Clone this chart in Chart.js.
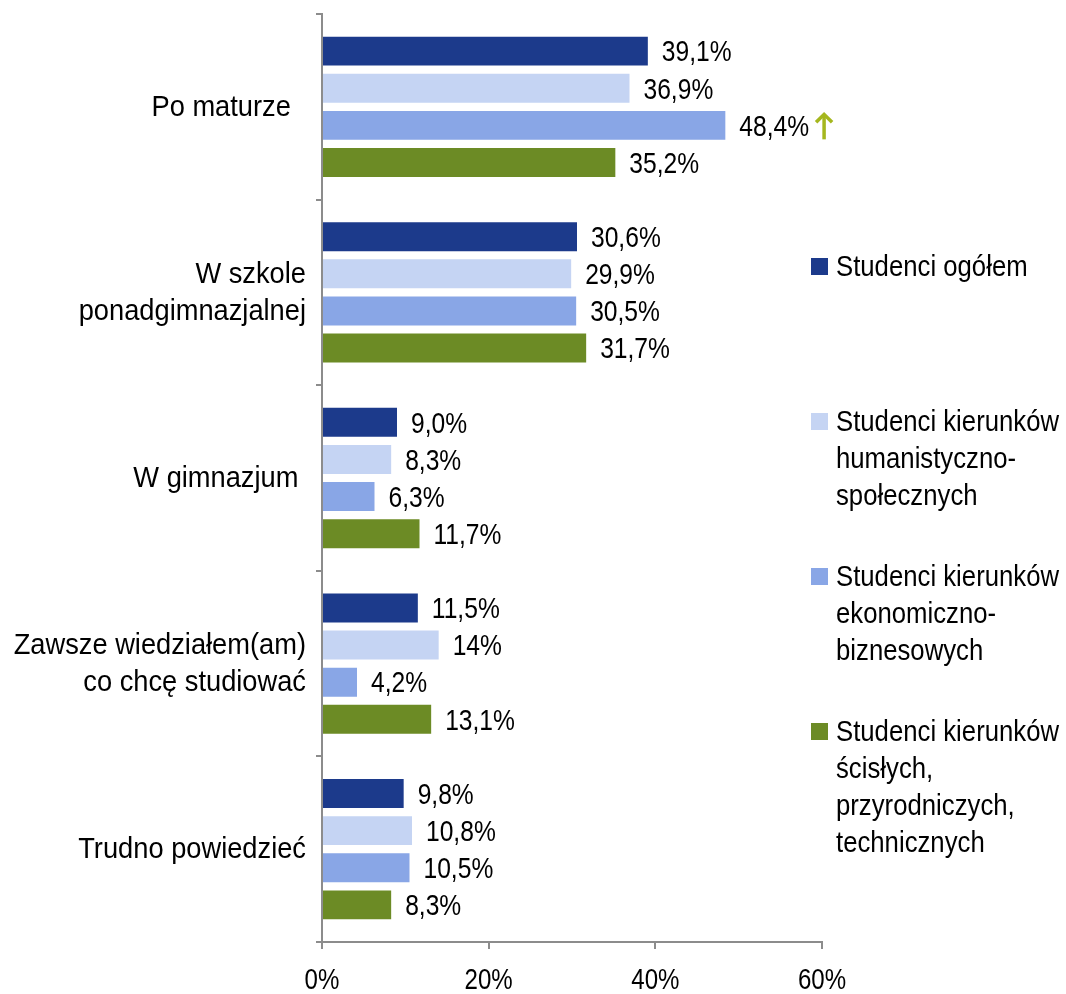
<!DOCTYPE html>
<html>
<head>
<meta charset="utf-8">
<script src="https://cdn.jsdelivr.net/npm/chart.js@4.4.1/dist/chart.umd.min.js"></script>
<style>
  html, body { margin: 0; padding: 0; background: #fff; }
  #wrap { width: 1066px; height: 994px; }
</style>
</head>
<body>
<div id="wrap"><canvas id="chart"></canvas></div>
<script>
// kategorie (oś Y)
const categories = [
  'Po maturze  ',
  ['W szkole', 'ponadgimnazjalnej'],
  'W gimnazjum ',
  ['Zawsze wiedziałem(am)', 'co chcę studiować'],
  'Trudno powiedzieć'
];

// wartości w procentach, tak jak na wykresie
const ogolem = ['39,1', '30,6', '9,0', '11,5', '9,8'];
const humanSpol = ['36,9', '29,9', '8,3', '14', '10,8'];
const ekonBiznes = ['48,4', '30,5', '6,3', '4,2', '10,5'];
const scisle = ['35,2', '31,7', '11,7', '13,1', '8,3'];

const xTicks = [0, 20, 40, 60];

const seriesNames = [
  ['Studenci ogółem'],
  ['Studenci kierunków', 'humanistyczno-', 'społecznych'],
  ['Studenci kierunków', 'ekonomiczno-', 'biznesowych'],
  ['Studenci kierunków', 'ścisłych,', 'przyrodniczych,', 'technicznych']
];
const seriesColors = ['#1c3a8b', '#c5d4f3', '#89a6e6', '#6c8b25'];

// strzałka przy 48,4%
const arrowMark = { dataset: 2, index: 0, color: '#a5b71e' };

const FONT = '29px "Liberation Sans", Arial, sans-serif';
const VALUE_FONT = '30px "Liberation Sans", Arial, sans-serif';
const LINE_H = 37;

const allSeries = [ogolem, humanSpol, ekonBiznes, scisle];

function toNum(s) {
  return parseFloat(s.replace(',', '.'));
}

// tekst zwężony (jak Arial Narrow) - brak takiej czcionki w systemie
function narrowText(ctx, text, x, y, sx, align) {
  ctx.save();
  ctx.translate(x, y);
  ctx.scale(sx, 1);
  ctx.textAlign = align;
  ctx.fillText(text, 0, 0);
  const w = ctx.measureText(text).width * sx;
  ctx.restore();
  return w;
}

// etykiety osi (rysowane ręcznie, pozycje ze skal Chart.js)
const axisLabels = {
  id: 'axisLabels',
  afterDraw(chart) {
    const ctx = chart.ctx;
    const x = chart.scales.x;
    const y = chart.scales.y;
    ctx.save();
    ctx.font = FONT;
    ctx.fillStyle = '#000';
    ctx.textBaseline = 'middle';
    y.ticks.forEach((t, i) => {
      const lab = categories[i];
      const lines = Array.isArray(lab) ? lab : [lab];
      const cy = y.getPixelForTick(i);
      const y0 = cy - (lines.length - 1) * LINE_H / 2;
      lines.forEach((ln, j) => {
        narrowText(ctx, ln, y.right - 16, y0 + j * LINE_H + 1, 0.94, 'right');
      });
    });
    xTicks.forEach(v => {
      narrowText(ctx, v + '%', x.getPixelForValue(v), x.top + 39, 0.83, 'center');
    });
    ctx.restore();
  }
};

// etykiety wartości przy słupkach
const valueLabels = {
  id: 'valueLabels',
  afterDatasetsDraw(chart) {
    const ctx = chart.ctx;
    ctx.save();
    ctx.font = VALUE_FONT;
    ctx.fillStyle = '#000';
    ctx.textBaseline = 'middle';
    chart.data.datasets.forEach((ds, di) => {
      const meta = chart.getDatasetMeta(di);
      meta.data.forEach((bar, i) => {
        const txt = allSeries[di][i] + '%';
        const x = bar.x + 14;
        const w = narrowText(ctx, txt, x, bar.y + 2, 0.82, 'left');
        if (di === arrowMark.dataset && i === arrowMark.index) {
          const cx = x + w + 15;
          const top = bar.y - 12;
          const bottom = bar.y + 14;
          ctx.strokeStyle = arrowMark.color;
          ctx.lineWidth = 3.5;
          ctx.beginPath();
          ctx.moveTo(cx, bottom);
          ctx.lineTo(cx, top + 1);
          ctx.stroke();
          ctx.beginPath();
          ctx.moveTo(cx - 8, top + 9);
          ctx.lineTo(cx, top + 1);
          ctx.lineTo(cx + 8, top + 9);
          ctx.stroke();
        }
      });
    });
    ctx.restore();
  }
};

// legenda po prawej stronie
const sideLegend = {
  id: 'sideLegend',
  afterDraw(chart) {
    const ctx = chart.ctx;
    const startY = [267, 422, 577, 732];
    ctx.save();
    ctx.font = FONT;
    ctx.textBaseline = 'middle';
    seriesNames.forEach((lines, i) => {
      ctx.fillStyle = seriesColors[i];
      ctx.fillRect(811, startY[i] - 9, 17, 17);
      ctx.fillStyle = '#000';
      lines.forEach((ln, j) => {
        narrowText(ctx, ln, 836, startY[i] + j * LINE_H + 1, 0.887, 'left');
      });
    });
    ctx.restore();
  }
};

new Chart(document.getElementById('chart'), {
  type: 'bar',
  data: {
    labels: categories,
    datasets: allSeries.map((s, i) => ({
      label: seriesNames[i].join(' '),
      data: s.map(toNum),
      backgroundColor: seriesColors[i],
      borderWidth: 0,
      categoryPercentage: 0.8,
      barPercentage: 0.78
    }))
  },
  options: {
    indexAxis: 'y',
    responsive: true,
    maintainAspectRatio: false,
    animation: false,
    layout: { padding: { top: 14, right: 244, bottom: 0, left: 0 } },
    plugins: {
      legend: { display: false },
      tooltip: { enabled: false }
    },
    scales: {
      x: {
        min: 0,
        max: 60,
        afterBuildTicks: s => { s.ticks = xTicks.map(v => ({ value: v })); },
        afterFit: s => { s.height = 52; },
        ticks: { display: false },
        grid: { drawOnChartArea: false, drawTicks: true, tickLength: 7, color: '#8c8c8c', lineWidth: 2 },
        border: { color: '#8c8c8c', width: 2 }
      },
      y: {
        afterFit: s => { s.width = 322; },
        ticks: { display: false },
        grid: { offset: true, drawOnChartArea: false, drawTicks: true, tickLength: 6, color: '#8c8c8c', lineWidth: 2 },
        border: { color: '#8c8c8c', width: 2 }
      }
    }
  },
  plugins: [valueLabels, axisLabels, sideLegend]
});
</script>
</body>
</html>
